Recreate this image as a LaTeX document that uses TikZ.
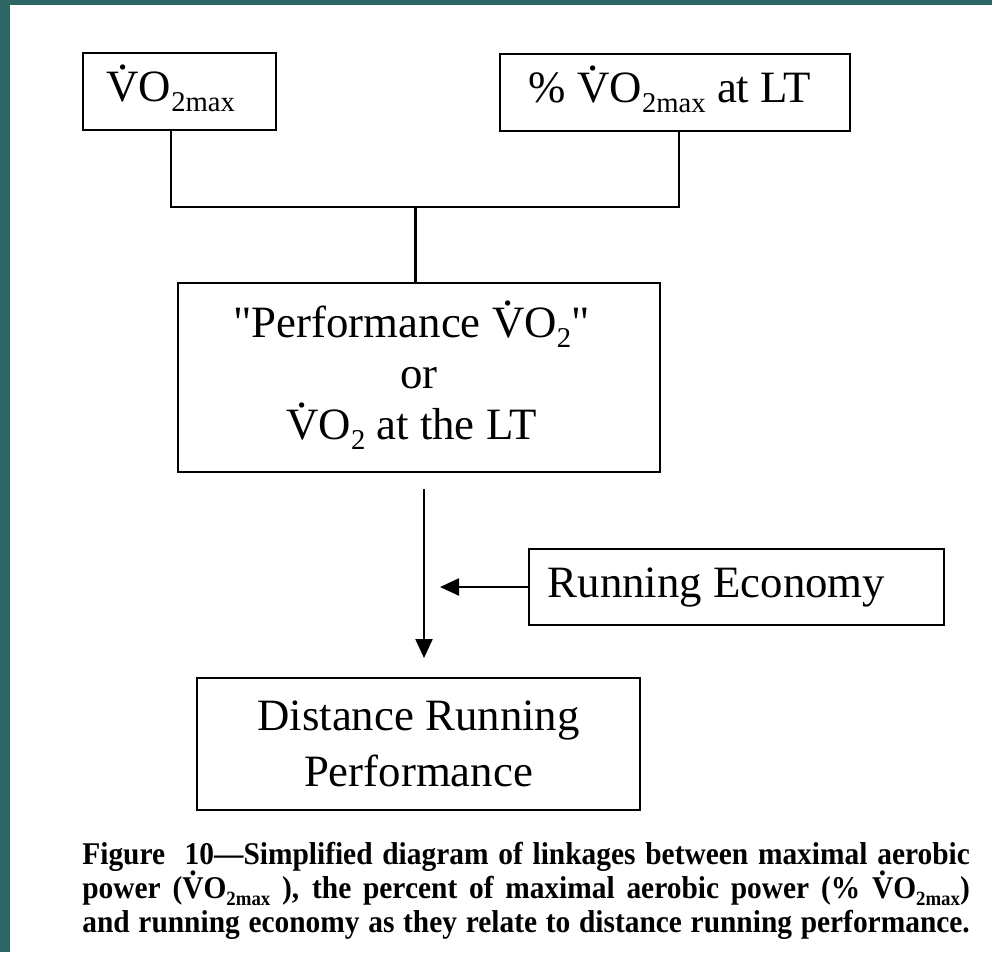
\documentclass[tikz,border=0pt]{standalone}
\usepackage{fontspec}
\setmainfont{Liberation Serif}
\newfontfamily\capfont[FakeStretch=0.93]{Liberation Serif}
\usetikzlibrary{arrows.meta}
\definecolor{slate}{RGB}{45,103,100}
% V with a dot over it, and the low subscripts of the figure
\newcommand{\Vdot}{{\ooalign{V\cr\hidewidth\raisebox{0.72em}{.}\hidewidth\cr}}}
\newcommand{\lowsub}[1]{\raisebox{-0.22em}{\scalebox{0.64}{#1}}}
\newcommand{\capline}[1]{\makebox[17.75cm][s]{#1}}

\begin{document}
\begin{tikzpicture}[
    % GLOBAL CFG
    font=\fontsize{25.5}{29}\selectfont,
    >={Triangle[length=3.8mm,width=3.4mm]},
    % Styles
    box/.style={% For the boxes
        rectangle,
        draw,
        line width=1.5pt,
        inner sep=0pt,
        align=center,
        },
    LineC1/.style={% Plain links
        line width=1.3pt,
        },
    ArrowC1/.style={% Links with a head
        ->,
        line width=1.3pt,
        },
    caption/.style={% For the text under the figure
        font=\capfont\bfseries\fontsize{18}{19.3}\selectfont,
        anchor=north west,
        inner sep=0pt,
        align=left,
        },
    ]

    % Page and its dark edge
    \useasboundingbox (0,0) rectangle (19.84,-19.04);
    \fill[white] (0,0) rectangle (19.84,-19.04);
    \fill[slate] (0,0) rectangle (0.2,-19.04);
    \fill[slate] (0,0) rectangle (19.84,-0.1);

    % Draw the boxes
    \node [box, minimum width=3.86cm, minimum height=1.54cm] (vo2max) at (3.59,-1.83) {\hspace*{-0.35cm}\Vdot O\lowsub{2max}};
    \node [box, minimum width=7.0cm, minimum height=1.54cm] (pctmax) at (13.5,-1.85) {\hspace*{-0.2cm}\% \Vdot O\lowsub{2max} at LT};
    \node [box, minimum width=9.64cm, minimum height=3.78cm] (perf) at (8.38,-7.55) {\textquotedbl Performance \Vdot O\lowsub{2}\textquotedbl\hspace*{0.3cm}\\or\\\Vdot O\lowsub{2} at the LT\hspace*{0.3cm}};
    \node [box, minimum width=8.3cm, minimum height=1.52cm] (econ) at (14.73,-11.74) {Running Economy\hspace*{0.8cm}};
    \node [box, minimum width=8.86cm, minimum height=2.64cm] (dist) at (8.37,-14.88) {Distance Running\\[0.1cm]Performance};

    % Points where the links meet or stop
    \coordinate (join) at (8.31,-4.14);
    \coordinate (astart) at (8.48,-9.78);
    \coordinate (atip) at (8.48,-13.16);
    \coordinate (ein) at (8.80,-11.74);

    % Drawing links
    \draw [LineC1] ([xshift=-0.17cm]vo2max.south) |- (join);
    \draw [LineC1] ([xshift=0.08cm]pctmax.south) |- (join);
    \draw [LineC1] (join) -- (join |- perf.north);
    \draw [ArrowC1] (astart) -- (atip);
    \draw [ArrowC1] (econ.west) -- (ein);

    % Caption
    \node [caption] (cap) at (1.64,-16.84) {%
        \capline{Figure\ \ 10—Simplified diagram of linkages between maximal aerobic}\\
        \capline{power (\Vdot O\lowsub{2max} ), the percent of maximal aerobic power (\% \Vdot O\lowsub{2max})}\\
        \capline{and running economy as they relate to distance running performance.}};

\end{tikzpicture}
\end{document}
